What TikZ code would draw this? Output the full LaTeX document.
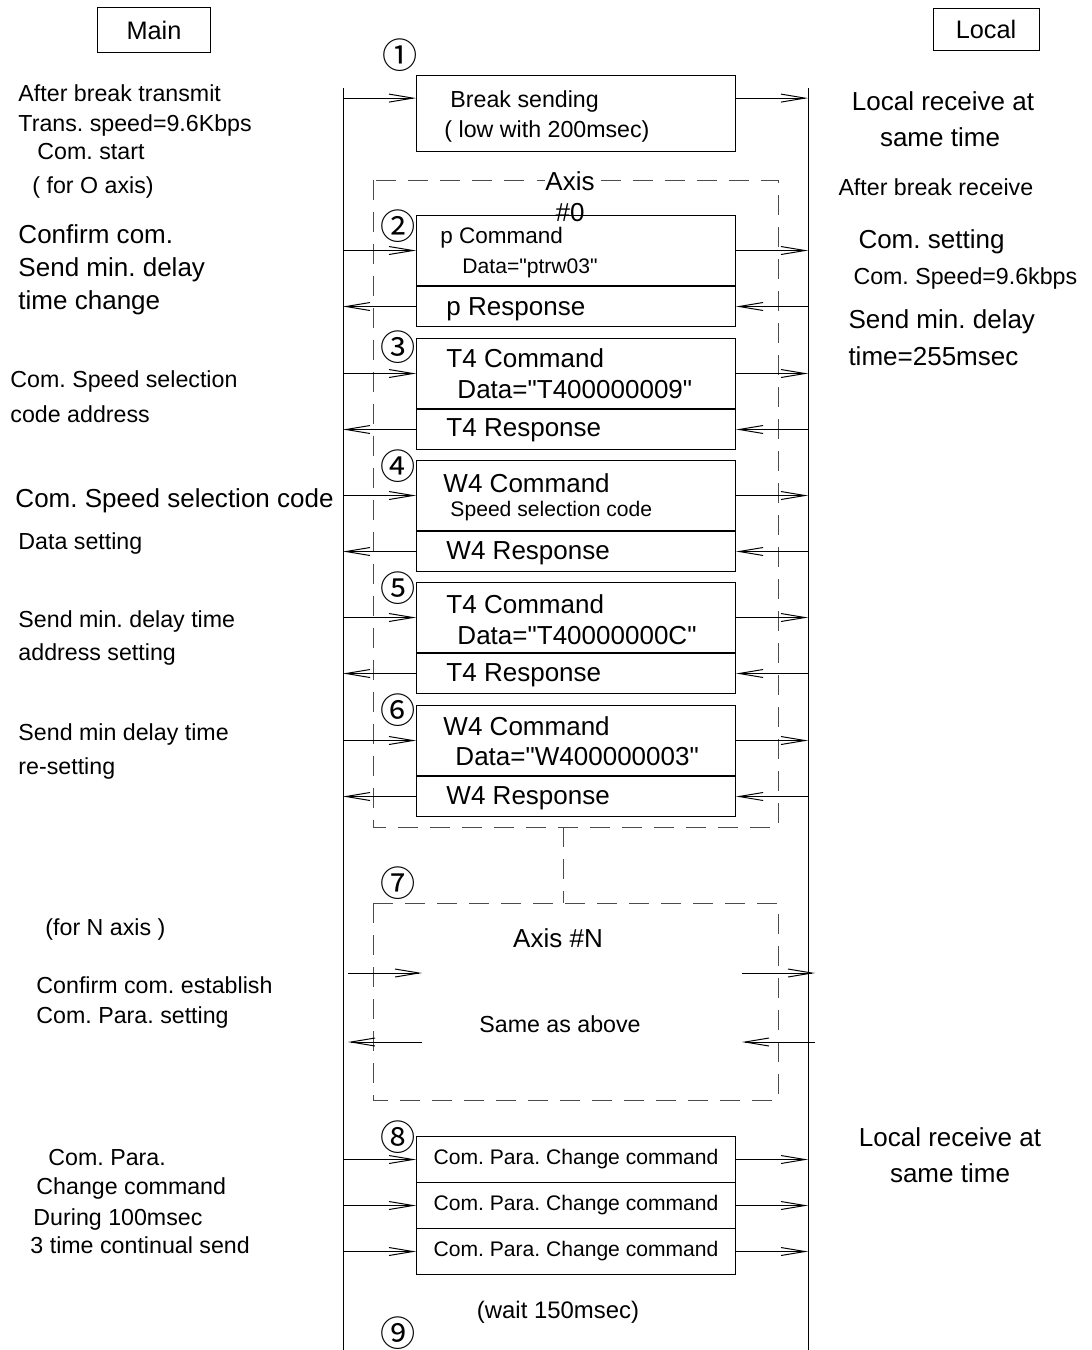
\documentclass[tikz,border=0pt]{standalone}
\usepackage{fontspec}
\setmainfont{Liberation Sans}[Ligatures=TeXOff]
\newfontfamily\circfont{Noto Sans CJK JP}
\usetikzlibrary{arrows.meta,calc}
\frenchspacing

\begin{document}
\begin{tikzpicture}[x=0.025cm,y=-0.025cm,line width=0.7pt,
    big/.style={font=\fontsize{18.5}{22}\selectfont,inner sep=0pt},
    mid/.style={font=\fontsize{16.5}{20}\selectfont,inner sep=0pt},
    sml/.style={font=\fontsize{15}{18}\selectfont,inner sep=0pt},
    num/.style={font=\circfont\fontsize{25}{28}\selectfont,inner sep=0pt},
    role/.style={draw,font=\fontsize{18}{21}\selectfont,inner sep=0pt},
    msgbox/.style={draw,minimum width=7.975cm,anchor=north west,inner sep=0pt},
    sig/.style={-{Straight Barb[length=0.6cm,width=0.2cm]}},
    axisbox/.style={draw=black!70,dash pattern=on 0.5cm off 0.3cm}]
  \useasboundingbox (0,0) rectangle (1092,1350);

  % the two stations
  \node[role,minimum width=2.8cm,minimum height=1.125cm] (main) at (154,30) {Main};
  \node[role,minimum width=2.65cm,minimum height=1.05cm] (local) at (986,29) {Local};
  \coordinate (mTop) at (343,88);
  \coordinate (mBot) at (343,1350);
  \coordinate (lTop) at (808,88);
  \coordinate (lBot) at (808,1350);
  \draw (mTop) -- (mBot);
  \draw (lTop) -- (lBot);

  % step 1: break
  \node[num] (s1) at (400,55) {①};
  \node[msgbox,minimum height=1.9cm] (brk) at (416,75) {};
  \coordinate (brkIn) at ($(brk.north west)!.3!(brk.south west)$);
  \draw[sig] (mTop |- brkIn) -- (brkIn);
  \draw[sig] (brkIn -| brk.east) -- (brkIn -| lTop);
  \node[mid,anchor=west] (brkA) at (450,101) {Break sending};
  \node[mid,anchor=west] (brkB) at (444,131) {( low with 200msec)};

  % axis #0
  \draw[axisbox] (373,180) rectangle (778,827);
  \node[big,fill=white] (ax0) at (570,181) {Axis};

  % steps 2..6: command / response pairs
  \foreach \n/\t/\y/\c in {2/215/226/②,3/338/347/③,4/460/466/④,5/582/588/⑤,6/705/710/⑥}{
    \node[msgbox,minimum height=1.75cm] (c\n) at (416,\t) {};
    \node[msgbox,minimum height=1cm] (r\n) at (c\n.south west) {};
    \draw[sig] (mTop |- c\n.west) -- (c\n.west);
    \draw[sig] (c\n.east) -- (lTop |- c\n.east);
    \draw[sig] (lTop |- r\n.east) -- (r\n.east);
    \draw[sig] (r\n.west) -- (mTop |- r\n.west);
    \node[num] (s\n) at (398,\y) {\c};
  }
  \node[big] (ax0n) at (570,213) {\#0};

  \node[mid,anchor=west,font=\fontsize{16}{19}\selectfont] (t2a) at (440,238) {p Command};
  \node[sml,anchor=west] (t2b) at (462,268) {Data="ptrw03"};
  \node[big,anchor=west] (t2c) at (446,309) {p Response};
  \node[big,anchor=west] (t3a) at (446,358) {T4 Command};
  \node[big,anchor=west] (t3b) at (457,390) {Data="T400000009"};
  \node[big,anchor=west] (t3c) at (446,430) {T4 Response};
  \node[big,anchor=west] (t4a) at (443,483) {W4 Command};
  \node[sml,anchor=west] (t4b) at (450,511) {Speed selection code};
  \node[big,anchor=west] (t4c) at (446,553) {W4 Response};
  \node[big,anchor=west] (t5a) at (446,604) {T4 Command};
  \node[big,anchor=west] (t5b) at (457,636) {Data="T40000000C"};
  \node[big,anchor=west] (t5c) at (446,675) {T4 Response};
  \node[big,anchor=west] (t6a) at (443,726) {W4 Command};
  \node[big,anchor=west] (t6b) at (455,757) {Data="W400000003"};
  \node[big,anchor=west] (t6c) at (446,798) {W4 Response};

  % step 7: axis #N
  \coordinate (a0S) at (563,827);
  \coordinate (aNN) at (563,903);
  \draw[axisbox] (a0S) -- (aNN);
  \draw[axisbox] (373,903) rectangle (778,1100);
  \node[num] (s7) at (398,883) {⑦};
  \node[big] (axN) at (558,938) {Axis \#N};
  \node[mid] (same) at (560,1024) {Same as above};
  \coordinate (nA) at (348,973);
  \coordinate (nB) at (422,973);
  \coordinate (nC) at (742,973);
  \coordinate (nD) at (815,973);
  \coordinate (nE) at (348,1042);
  \coordinate (nF) at (422,1042);
  \coordinate (nG) at (742,1042);
  \coordinate (nH) at (815,1042);
  \draw[sig] (nA) -- (nB);
  \draw[sig] (nC) -- (nD);
  \draw[sig] (nF) -- (nE);
  \draw[sig] (nH) -- (nG);

  % step 8: parameter change, sent 3 times
  \node[num] (s8) at (398,1137) {⑧};
  \foreach \k/\t in {1/1136,2/1182,3/1228}{
    \node[msgbox,minimum height=1.15cm,font=\fontsize{15}{18}\selectfont] (p\k) at (416,\t) {Com. Para. Change command};
    \draw[sig] (mTop |- p\k.west) -- (p\k.west);
    \draw[sig] (p\k.east) -- (lTop |- p\k.east);
  }
  \node[mid,font=\fontsize{17}{20}\selectfont] (wait) at (558,1312) {(wait 150msec)};
  \node[num] (s9) at (398,1333) {⑨};

  % notes on the main side
  \node[mid,anchor=west] (m1) at (18,93) {After break transmit};
  \node[mid,anchor=west] (m2) at (18,125) {Trans. speed=9.6Kbps};
  \node[mid,anchor=west] (m3) at (37,152) {Com. start};
  \node[mid,anchor=west] (m4) at (32,187) {( for O axis)};
  \node[big,anchor=west] (m5) at (18,234) {Confirm com.};
  \node[big,anchor=west] (m6) at (18,270) {Send min. delay};
  \node[big,anchor=west] (m7) at (18,303) {time change};
  \node[mid,anchor=west] (m8) at (10,381) {Com. Speed selection};
  \node[mid,anchor=west] (m9) at (10,414) {code address};
  \node[big,anchor=west] (m10) at (15,501) {Com. Speed selection code};
  \node[mid,anchor=west] (m11) at (18,543) {Data setting};
  \node[mid,anchor=west] (m12) at (18,621) {Send min. delay time};
  \node[mid,anchor=west] (m13) at (18,654) {address setting};
  \node[mid,anchor=west] (m14) at (18,734) {Send min delay time};
  \node[mid,anchor=west] (m15) at (18,768) {re-setting};
  \node[mid,anchor=west] (m16) at (45,929) {(for N axis )};
  \node[mid,anchor=west] (m17) at (36,985) {Confirm com. establish};
  \node[mid,anchor=west] (m18) at (36,1017) {Com. Para. setting};
  \node[mid,anchor=west] (m19) at (48,1157) {Com. Para.};
  \node[mid,anchor=west] (m20) at (36,1188) {Change command};
  \node[mid,anchor=west] (m21) at (33,1219) {During 100msec};
  \node[mid,anchor=west] (m22) at (30,1245) {3 time continual send};

  % notes on the local side
  \node[big] (l1) at (943,101) {Local receive at};
  \node[big] (l2) at (940,137) {same time};
  \node[mid,anchor=west] (l3) at (838,187) {After break receive};
  \node[big,anchor=west] (l4) at (858,242) {Com. setting};
  \node[mid,anchor=west] (l5) at (853,278) {Com. Speed=9.6kbps};
  \node[big,anchor=west] (l6) at (848,322) {Send min. delay};
  \node[big,anchor=west] (l7) at (848,356) {time=255msec};
  \node[big] (l8) at (950,1137) {Local receive at};
  \node[big] (l9) at (950,1173) {same time};
\end{tikzpicture}
\end{document}
